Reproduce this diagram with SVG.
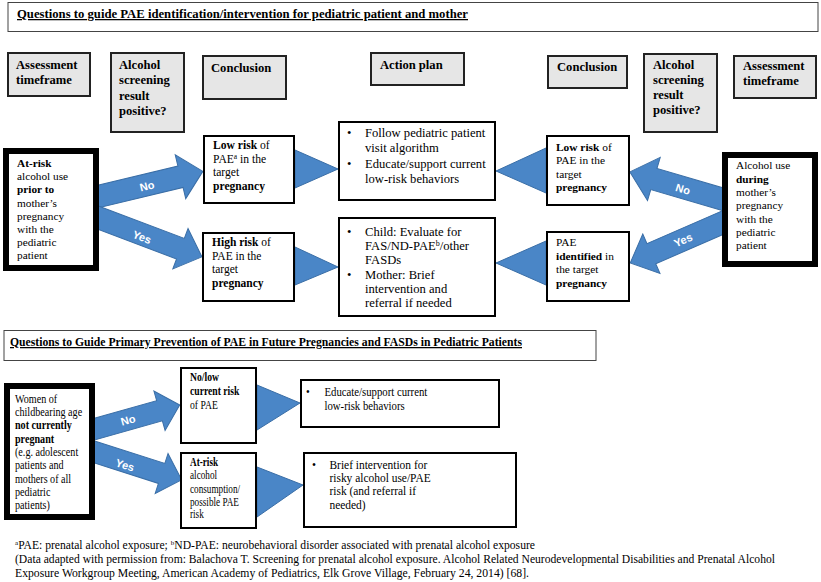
<svg xmlns="http://www.w3.org/2000/svg" width="821" height="582" viewBox="0 0 821 582">
<style>
svg{font-family:"Liberation Serif","Times New Roman",serif;font-size:12.6px}
text{fill:#000}
.b{font-weight:bold}
.hdr{fill:#e6e6e6;stroke:#222;stroke-width:2}
.box{fill:#fff;stroke:#000;stroke-width:2}
.thick{fill:#fff;stroke:#000;stroke-width:6}
.title{fill:#fff;stroke:#444;stroke-width:1}
.arr{fill:#4a86c7;stroke:#3a6ea6;stroke-width:1}
.lbl{font-family:"Liberation Sans",Arial,sans-serif;font-weight:bold;font-size:11px;fill:#fff;text-anchor:middle}
.fn{font-size:11.5px}
</style>
<rect width="821" height="582" fill="#fff"/>

<g id="connectors">
  <polygon class="arr" transform="translate(92,198) rotate(-13.5)" points="0,-11 91,-11 91,-22.5 114,0 91,22.5 91,11 0,11"/>
  <polygon class="arr" transform="translate(92.5,215.5) rotate(20.7)" points="0,-11 94,-11 94,-21.5 117,0 94,21.5 94,11 0,11"/>
  <polygon class="arr" transform="translate(728.7,201) rotate(196.4)" points="0,-11 78,-11 78,-22.5 103,0 78,22.5 78,11 0,11"/>
  <polygon class="arr" transform="translate(728.4,220.2) rotate(156.5)" points="0,-11 84,-11 84,-21.5 107,0 84,21.5 84,11 0,11"/>
  <polygon class="arr" transform="translate(88.3,430.9) rotate(-15.8)" points="0,-10.5 74,-10.5 74,-20.5 95,0 74,20.5 74,10.5 0,10.5"/>
  <polygon class="arr" transform="translate(88.3,449.9) rotate(17.8)" points="0,-10.5 77,-10.5 77,-21 98,0 77,21 77,10.5 0,10.5"/>
  <polygon class="arr" points="295,150 295,188 338,169"/>
  <polygon class="arr" points="295,247 295,285 338,267"/>
  <polygon class="arr" points="546,148 546,193 496,171"/>
  <polygon class="arr" points="546,241 546,285 496,263"/>
  <polygon class="arr" points="257,385 257,430 300,403"/>
  <polygon class="arr" points="257,467 257,517 303,485"/>
  <text class="lbl" transform="translate(147,186) rotate(-13.5)" y="4">No</text>
  <text class="lbl" transform="translate(142,237) rotate(20.7)" y="4">Yes</text>
  <text class="lbl" transform="translate(683,189) rotate(16.4)" y="4">No</text>
  <text class="lbl" transform="translate(683,240) rotate(-23.5)" y="4">Yes</text>
  <text class="lbl" transform="translate(128,420) rotate(-15.8)" y="4">No</text>
  <text class="lbl" transform="translate(125,465) rotate(17.8)" y="4">Yes</text>
</g>

<g id="title1">
  <rect class="title" x="8" y="2.5" width="810" height="29"/>
  <text class="b" x="17" y="18" text-decoration="underline" textLength="451" lengthAdjust="spacingAndGlyphs">Questions to guide PAE identification/intervention for pediatric patient and mother</text>
</g>

<g id="hdr-assess-left">
  <rect class="hdr" x="8" y="53" width="82" height="43"/>
  <text class="b" x="16" y="69">Assessment</text>
  <text class="b" x="16" y="84">timeframe</text>
</g>
<g id="hdr-screen-left">
  <rect class="hdr" x="111" y="53" width="73" height="79"/>
  <text class="b" x="119" y="69">Alcohol</text>
  <text class="b" x="119" y="84">screening</text>
  <text class="b" x="119" y="99.5">result</text>
  <text class="b" x="119" y="115">positive?</text>
</g>
<g id="hdr-concl-left">
  <rect class="hdr" x="203" y="56" width="83" height="43"/>
  <text class="b" x="211" y="72">Conclusion</text>
</g>
<g id="hdr-action">
  <rect class="hdr" x="371" y="53" width="93" height="32"/>
  <text class="b" x="380" y="68.5">Action plan</text>
</g>
<g id="hdr-concl-right">
  <rect class="hdr" x="548" y="56" width="79" height="32"/>
  <text class="b" x="557" y="71">Conclusion</text>
</g>
<g id="hdr-screen-right">
  <rect class="hdr" x="644" y="54" width="73" height="78"/>
  <text class="b" x="653" y="68.5">Alcohol</text>
  <text class="b" x="653" y="83.5">screening</text>
  <text class="b" x="653" y="99">result</text>
  <text class="b" x="653" y="114">positive?</text>
</g>
<g id="hdr-assess-right">
  <rect class="hdr" x="734" y="56" width="82" height="42"/>
  <text class="b" x="743" y="70">Assessment</text>
  <text class="b" x="743" y="85">timeframe</text>
</g>

<g id="node-prior" font-size="11.3">
  <rect class="thick" x="6" y="151" width="90" height="117"/>
  <text x="17" y="167" class="b">At-risk</text>
  <text x="17" y="180.2">alcohol use</text>
  <text x="17" y="193.4" class="b">prior to</text>
  <text x="17" y="206.6">mother’s</text>
  <text x="17" y="219.8">pregnancy</text>
  <text x="17" y="233">with the</text>
  <text x="17" y="246.2">pediatric</text>
  <text x="17" y="259.4">patient</text>
</g>
<g id="node-lowrisk-left" font-size="11.6">
  <rect class="box" x="204" y="136" width="90" height="67"/>
  <text x="213" y="149"><tspan class="b">Low risk</tspan> of</text>
  <text x="213" y="162.5">PAE<tspan font-size="7.5" dy="-4">a</tspan><tspan dy="4"> in the</tspan></text>
  <text x="213" y="176">target</text>
  <text x="213" y="189.5" class="b">pregnancy</text>
</g>
<g id="node-highrisk" font-size="11.5">
  <rect class="box" x="203" y="233" width="91" height="68"/>
  <text x="212" y="246"><tspan class="b">High risk</tspan> of</text>
  <text x="212" y="259.5">PAE in the</text>
  <text x="212" y="273">target</text>
  <text x="212" y="286.5" class="b">pregnancy</text>
</g>
<g id="node-action1">
  <rect class="box" x="339" y="122" width="156" height="78"/>
  <text x="347" y="137">•</text>
  <text x="365" y="137">Follow pediatric patient</text>
  <text x="365" y="152">visit algorithm</text>
  <text x="347" y="167.5">•</text>
  <text x="365" y="167.5">Educate/support current</text>
  <text x="365" y="182.5">low-risk behaviors</text>
</g>
<g id="node-action2">
  <rect class="box" x="339" y="218" width="156" height="98"/>
  <text x="347" y="236">•</text>
  <text x="365" y="236">Child: Evaluate for</text>
  <text x="365" y="250">FAS/ND-PAE<tspan font-size="8" dy="-4">b</tspan><tspan dy="4">/other</tspan></text>
  <text x="365" y="264">FASDs</text>
  <text x="347" y="278.5">•</text>
  <text x="365" y="278.5">Mother: Brief</text>
  <text x="365" y="292.7">intervention and</text>
  <text x="365" y="307">referral if needed</text>
</g>
<g id="node-lowrisk-right" font-size="11.4">
  <rect class="box" x="547" y="136" width="82" height="69"/>
  <text x="556" y="150.5"><tspan class="b">Low risk</tspan> of</text>
  <text x="556" y="164">PAE in the</text>
  <text x="556" y="177.5">target</text>
  <text x="556" y="191" class="b">pregnancy</text>
</g>
<g id="node-identified" font-size="11.4">
  <rect class="box" x="547" y="232" width="82" height="69"/>
  <text x="556" y="246">PAE</text>
  <text x="556" y="259.5"><tspan class="b">identified</tspan> in</text>
  <text x="556" y="273">the target</text>
  <text x="556" y="286.5" class="b">pregnancy</text>
</g>
<g id="node-during" font-size="11.3">
  <rect class="thick" x="725" y="155" width="90" height="109"/>
  <text x="736" y="169">Alcohol use</text>
  <text x="736" y="182.5" class="b">during</text>
  <text x="736" y="196">mother’s</text>
  <text x="736" y="209.3">pregnancy</text>
  <text x="736" y="222.6">with the</text>
  <text x="736" y="236">pediatric</text>
  <text x="736" y="249.3">patient</text>
</g>

<g id="title2">
  <rect class="title" x="4" y="330.5" width="592" height="30"/>
  <text class="b" x="10" y="346" text-decoration="underline" textLength="512" lengthAdjust="spacingAndGlyphs">Questions to Guide Primary Prevention of PAE in Future Pregnancies and FASDs in Pediatric Patients</text>
</g>

<g id="node-women" font-size="11.5">
  <rect class="thick" x="7" y="386" width="85" height="131"/>
  <g transform="translate(15,0) scale(0.88,1) translate(-15,0)">
    <text x="15" y="402.7">Women of</text>
    <text x="15" y="416">childbearing age</text>
    <text x="15" y="429.3" class="b">not currently</text>
    <text x="15" y="442.6" class="b">pregnant</text>
    <text x="15" y="456">(e.g. adolescent</text>
    <text x="15" y="469.3">patients and</text>
    <text x="15" y="482.6">mothers of all</text>
    <text x="15" y="496">pediatric</text>
    <text x="15" y="509.3">patients)</text>
  </g>
</g>
<g id="node-nolow" font-size="11.5">
  <rect class="box" x="181" y="368" width="75" height="75"/>
  <g transform="translate(190,0) scale(0.84,1) translate(-190,0)">
    <text x="190" y="381.5" class="b">No/low</text>
    <text x="190" y="395.2" class="b">current risk</text>
    <text x="190" y="408.8">of PAE</text>
  </g>
</g>
<g id="node-atrisk" font-size="11.5">
  <rect class="box" x="181" y="453" width="75" height="75"/>
  <g transform="translate(190,0) scale(0.8,1) translate(-190,0)">
    <text x="190" y="466" class="b">At-risk</text>
    <text x="190" y="479.3">alcohol</text>
    <text x="190" y="492.6">consumption/</text>
    <text x="190" y="505.6">possible PAE</text>
    <text x="190" y="518.3">risk</text>
  </g>
</g>
<g id="node-educate" font-size="12.2">
  <rect class="box" x="301" y="380" width="198" height="47"/>
  <g transform="translate(306,0) scale(0.88,1) translate(-306,0)">
    <text x="306" y="396">•</text>
    <text x="327" y="396">Educate/support current</text>
    <text x="327" y="410">low-risk behaviors</text>
  </g>
</g>
<g id="node-brief" font-size="11.8">
  <rect class="box" x="304" y="453" width="212" height="74"/>
  <g transform="translate(312,0) scale(0.97,1) translate(-312,0)">
    <text x="312" y="468.7">•</text>
    <text x="330" y="468.7">Brief intervention for</text>
    <text x="330" y="482">risky alcohol use/PAE</text>
    <text x="330" y="495.3">risk (and referral if</text>
    <text x="330" y="508.7">needed)</text>
  </g>
</g>

<g id="footnotes">
  <text class="fn" x="15" y="549" textLength="520" lengthAdjust="spacingAndGlyphs"><tspan font-size="7" dy="-4">a</tspan><tspan dy="4">PAE: prenatal alcohol exposure; </tspan><tspan font-size="7" dy="-4">b</tspan><tspan dy="4">ND-PAE: neurobehavioral disorder associated with prenatal alcohol exposure</tspan></text>
  <text class="fn" x="15" y="563" textLength="760" lengthAdjust="spacingAndGlyphs">(Data adapted with permission from: Balachova T. Screening for prenatal alcohol exposure. Alcohol Related Neurodevelopmental Disabilities and Prenatal Alcohol</text>
  <text class="fn" x="15" y="577" textLength="514" lengthAdjust="spacingAndGlyphs">Exposure Workgroup Meeting, American Academy of Pediatrics, Elk Grove Village, February 24, 2014) [68].</text>
</g>
</svg>
